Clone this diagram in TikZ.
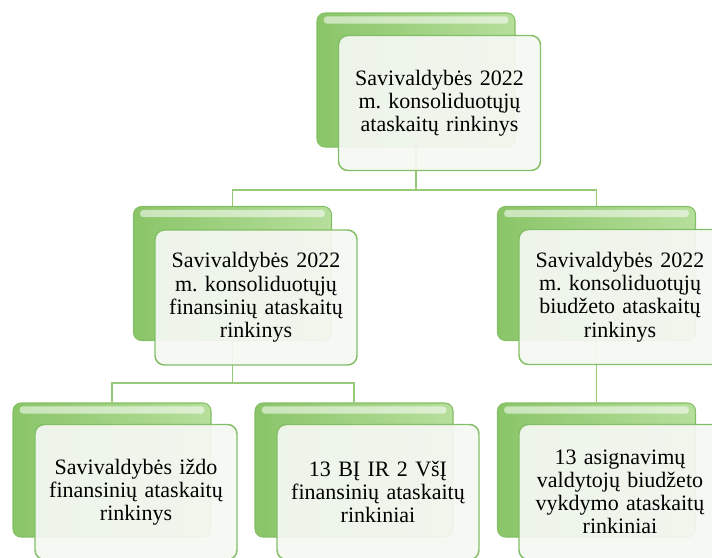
\documentclass[tikz,border=0pt]{standalone}
\usepackage{fontspec}
\setmainfont{Liberation Serif}
\definecolor{backdark}{RGB}{138,197,104}
\definecolor{backlight}{RGB}{182,223,156}
\definecolor{rimgreen}{RGB}{132,190,102}
\definecolor{linkgreen}{RGB}{150,202,120}
\definecolor{facefill}{RGB}{245,248,243}
\tikzset{
    back/.style={rectangle, rounded corners=6pt, draw=rimgreen, line width=0.8pt,
    	left color=backdark, right color=backlight,
    	minimum width=148.5pt, minimum height=100.5pt, inner sep=0pt,
    	path picture={\fill[white, opacity=0.55, rounded corners=2.5pt]
    		([xshift=5pt,yshift=-2.5pt]path picture bounding box.north west) rectangle
    		([xshift=-5pt,yshift=-8pt]path picture bounding box.north east);}}
}
\tikzset{
    face/.style={rectangle, rounded corners=7pt, draw=rimgreen, line width=1.1pt,
    	fill=facefill, fill opacity=0.93, text opacity=1,
    	minimum width=151.5pt, minimum height=101.25pt, inner sep=0pt,
    	text width=145pt, align=center,
    	font=\fontsize{16.5}{17.4}\selectfont\frenchspacing}
}
\tikzset{
    link/.style={draw=linkgreen, line width=1.4pt}
}

\begin{document}
\begin{tikzpicture}[x=0.75pt,y=-0.75pt]
  \useasboundingbox (0,0) rectangle (712,557);

  % back plates
  \node (t0b) [back] at (416,80) {};
  \node (m1b) [back] at (232.5,273.5) {};
  \node (m2b) [back] at (596.5,273.5) {};
  \node (b1b) [back] at (112,470) {};
  \node (b2b) [back] at (354,470) {};
  \node (b3b) [back] at (596.5,470) {};

  % junctions
  \coordinate (j0) at (416,190);
  \coordinate (j1) at (232.5,383);

  \draw [link] (t0b) -- (j0);
  \draw [link] (j0) -| (m1b);
  \draw [link] (j0) -| (m2b);
  \draw [link] (m1b) -- (j1);
  \draw [link] (j1) -| (b1b);
  \draw [link] (j1) -| (b2b);
  \draw [link] (m2b) -- (b3b);

  % front boxes
  \node (t0) [face] at (439.5,103) {Savivaldybės 2022\\ m. konsoliduotųjų\\ ataskaitų rinkinys};
  \node (m1) [face] at (256,297.5) {Savivaldybės 2022\\ m. konsoliduotųjų\\ finansinių ataskaitų\\ rinkinys};
  \node (m2) [face] at (620,297) {Savivaldybės 2022\\ m. konsoliduotųjų\\ biudžeto ataskaitų\\ rinkinys};
  \node (b1) [face] at (136,492) {Savivaldybės iždo\\ finansinių ataskaitų\\ rinkinys};
  \node (b2) [face] at (378,492) {13 BĮ IR 2 VšĮ\\ finansinių ataskaitų\\ rinkiniai};
  \node (b3) [face] at (620,492) {13 asignavimų\\ valdytojų biudžeto\\ vykdymo ataskaitų\\ rinkiniai};
\end{tikzpicture}
\end{document}
